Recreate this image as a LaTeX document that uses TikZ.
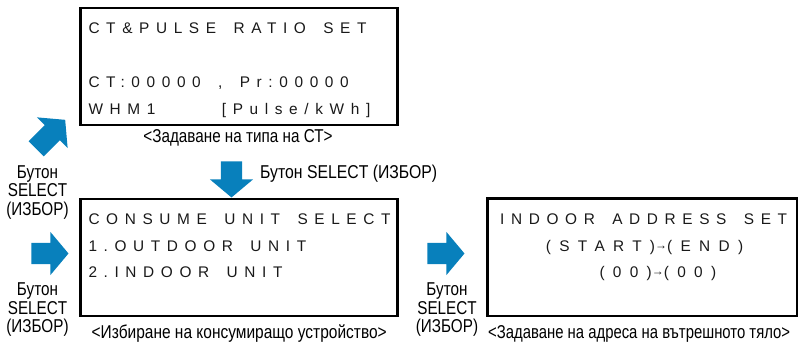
\documentclass[tikz,border=0pt]{standalone}
\usepackage{fontspec}
\usepackage{graphicx}
\setmainfont{Liberation Sans}
\newfontfamily\lcdfam[LetterSpace=43]{Liberation Sans}
\newfontfamily\lcdwide[LetterSpace=54]{Liberation Sans}
\newfontfamily\cndfam[FakeStretch=0.82]{Liberation Sans}
\usetikzlibrary{shapes.arrows}
\definecolor{arrowblue}{HTML}{0880BC}
\newcommand\lcdarrow{\raisebox{2.2pt}{\fontsize{12}{12}\selectfont →}}
\newcommand\wg{\ \hspace{6.5pt}}
\newcommand\fitw[2]{\resizebox{#1}{\height}{#2}}
\begin{document}
\begin{tikzpicture}[x=1pt,y=-1pt,
  lcdbox/.style={draw=black, line width=2.5pt, rectangle, inner sep=0pt},
  lcd/.style={anchor=base west, inner sep=0pt, font=\lcdfam\fontsize{15.4}{15.4}\selectfont, text=black!90},
  lcdw/.style={lcd, font=\lcdwide\fontsize{15.4}{15.4}\selectfont},
  captxt/.style={anchor=base, inner sep=0pt, font=\cndfam\fontsize{18.6}{18.6}\selectfont},
  sidelbl/.style={anchor=base, inner sep=0pt, font=\cndfam\fontsize{18.6}{18.6}\selectfont},
  blockarrow/.style={single arrow, fill=arrowblue, draw=none, inner xsep=0pt, inner ysep=10.5pt,
    single arrow head extend=11pt, single arrow tip angle=100, minimum width=43pt, anchor=center}
]
\useasboundingbox (0,0) rectangle (806,344);

% boxes
\node[lcdbox, minimum width=317pt, minimum height=117pt] (b1) at (238.8,66.5) {};
\node[lcdbox, minimum width=317.2pt, minimum height=117pt] (b2) at (238.9,257.5) {};
\node[lcdbox, minimum width=309.5pt, minimum height=117.5pt] (b3) at (642.25,257.25) {};

% box 1 text
\node[lcd] (t11) at (88.3,33.3) {CT\&PULSE\wg RATIO\wg SET};
\node[lcd] (t12) at (88.3,87.3) {CT:00000\wg,\wg Pr:00000};
\node[lcd] (t13) at (88.3,115) {WHM1};
\node[lcd] (t14) at (221.7,115) {[Pulse/kWh]};
% box 2 text
\node[lcd] (t21) at (88.3,225) {CONSUME\wg UNIT\wg SELECT};
\node[lcd] (t22) at (88.3,252) {1.OUTDOOR\wg UNIT};
\node[lcd] (t23) at (88.3,278) {2.INDOOR\wg UNIT};
% box 3 text
\node[lcd] (t31) at (500,224.5) {INDOOR\wg ADDRESS\wg SET};
\node[lcdw] (t32) at (545.7,252) {(START)\lcdarrow(END)};
\node[lcdw] (t33) at (599.3,278) {(00)\lcdarrow(00)};

% captions
\node[captxt] (c1) at (238,143) {<Задаване на типа на СТ>};
\node[captxt] (c2) at (239.2,338.5) {\fitw{295pt}{<Избиране на консумиращо устройство>}};
\node[captxt] (c3) at (639.2,338.5) {\fitw{302pt}{<Задаване на адреса на вътрешното тяло>}};
\node[captxt, anchor=base west] (c4) at (260,178.3) {\fitw{177pt}{Бутон SELECT (ИЗБОР)}};

% side labels
\node[sidelbl] (l1a) at (37.5,178.5) {Бутон};
\node[sidelbl] (l1b) at (37.5,197) {SELECT};
\node[sidelbl] (l1c) at (37.5,215.5) {(ИЗБОР)};
\node[sidelbl] (l2a) at (37.5,296) {Бутон};
\node[sidelbl] (l2b) at (37.5,314.5) {SELECT};
\node[sidelbl] (l2c) at (37.5,333) {(ИЗБОР)};
\node[sidelbl] (l3a) at (447,296) {Бутон};
\node[sidelbl] (l3b) at (447,314.5) {SELECT};
\node[sidelbl] (l3c) at (447,333) {(ИЗБОР)};

% block arrows
\node[blockarrow, minimum height=41pt, rotate=45] (a1) at (47.5,137.5) {};
\node[blockarrow, minimum height=36pt, rotate=-90] (a2) at (231.5,175) {};
\node[blockarrow, minimum height=37pt] (a3) at (45.5,253.5) {};
\node[blockarrow, minimum height=37pt] (a4) at (441.5,253.5) {};
\end{tikzpicture}
\end{document}
